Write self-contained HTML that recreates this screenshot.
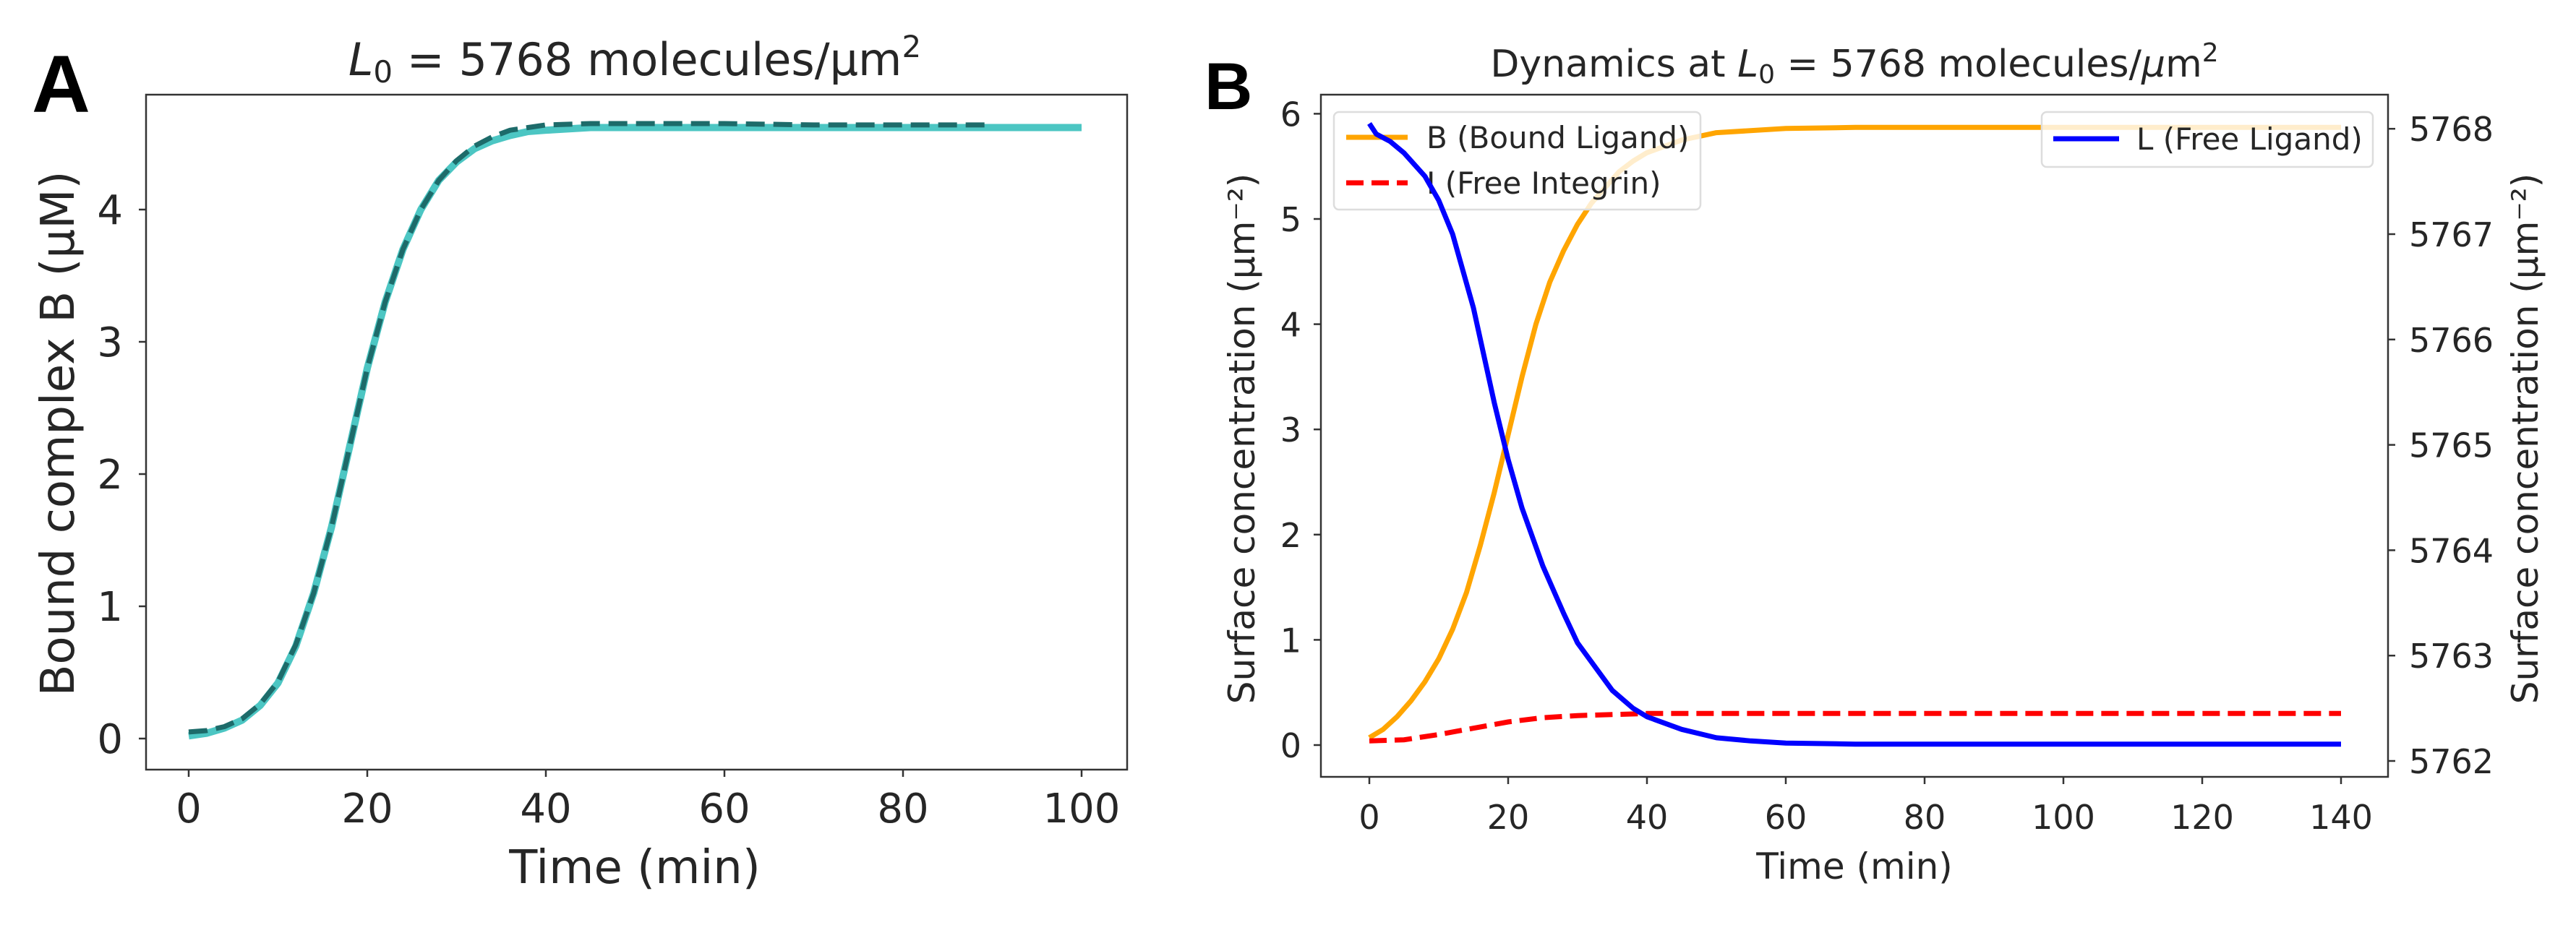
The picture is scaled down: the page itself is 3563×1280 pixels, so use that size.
<!DOCTYPE html>
<html><head><meta charset="utf-8"><style>
html,body{margin:0;padding:0;background:#fff;overflow:hidden;}
svg{display:block;}
text{font-family:"DejaVu Sans","Liberation Sans",sans-serif;fill:#262626;}
</style></head><body>
<svg id="fig" width="3563" height="1280" viewBox="0 0 3563 1280" xmlns="http://www.w3.org/2000/svg">
<text x="44" y="155" style="font-family:'Liberation Sans',sans-serif;font-weight:bold;font-size:112px;fill:#000">A</text>
<text x="1666" y="151" style="font-family:'Liberation Sans',sans-serif;font-weight:bold;font-size:92px;fill:#000">B</text>
<g id="pa"></g>
<g id="pb"></g>
</svg>
<script>
// ---- Panel A data ----
const timesA = [0,2,4,6,8,10,12,14,16,18,20,22,24,26,28,30,32,34,36,38,40,45,50,60,70,80,90,100];
const boundA = [0.02,0.04,0.08,0.14,0.25,0.42,0.7,1.1,1.6,2.2,2.8,3.3,3.7,4.0,4.22,4.36,4.46,4.52,4.56,4.59,4.6,4.62,4.62,4.62,4.62,4.62,4.62,4.62];
const timesAfit = [0,2,4,6,8,10,12,14,16,18,20,22,24,26,28,30,32,34,36,38,40,45,50,60,70,80,90];
const fitA = [0.05,0.06,0.09,0.15,0.26,0.43,0.71,1.1,1.6,2.2,2.8,3.3,3.7,4.0,4.22,4.37,4.48,4.55,4.6,4.62,4.64,4.65,4.65,4.65,4.64,4.64,4.64];
const xTicksA = [0,20,40,60,80,100];
const yTicksA = [0,1,2,3,4];
// ---- Panel B data ----
const timesB = [0,2,4,6,8,10,12,14,16,18,20,22,24,26,28,30,32,34,36,38,40,45,50,60,70,80,100,140];
const boundB = [0.07,0.15,0.27,0.42,0.6,0.82,1.1,1.45,1.9,2.4,2.95,3.5,4.0,4.4,4.7,4.95,5.15,5.3,5.45,5.55,5.63,5.75,5.82,5.86,5.87,5.87,5.87,5.87];
const timesI = [0,5,10,15,20,25,30,35,40,60,140];
const integrinI = [0.04,0.05,0.1,0.16,0.22,0.26,0.28,0.29,0.3,0.3,0.3];
const timesL = [0,1,3,5,8,10,12,15,18,20,22,25,28,30,33,35,38,40,45,50,55,60,70,80,100,140];
const ligandL = [5768.05,5767.95,5767.88,5767.77,5767.55,5767.32,5767.0,5766.3,5765.4,5764.86,5764.4,5763.85,5763.4,5763.12,5762.85,5762.67,5762.5,5762.42,5762.3,5762.22,5762.19,5762.17,5762.16,5762.16,5762.16,5762.16];
const xTicksB = [0,20,40,60,80,100,120,140];
const yTicksB = [0,1,2,3,4,5,6];
const yTicksR = [5762,5763,5764,5765,5766,5767,5768];

const NS='http://www.w3.org/2000/svg';
function mk(parent,tag,attrs,txt){const e=document.createElementNS(NS,tag);for(const k in attrs)e.setAttribute(k,attrs[k]);if(txt!==undefined)e.textContent=txt;parent.appendChild(e);return e;}
function pathD(xs,ys,fx,fy){return xs.map((x,i)=>(i?'L':'M')+fx(x).toFixed(1)+','+fy(ys[i]).toFixed(1)).join(' ');}

// ---- Panel A ----
const pa=document.getElementById('pa');
const A={l:202,r:1559,t:131,b:1065};
const axA=v=>261+v*(1496-261)/100;
const ayA=v=>1022-v*183;
let e;
e=mk(pa,'path',{d:pathD(timesA,boundA,axA,ayA),fill:'none',stroke:'#4cc6c3','stroke-width':10,'stroke-linejoin':'round'});


e=mk(pa,'path',{d:pathD(timesAfit,fitA,axA,ayA),fill:'none',stroke:'#1d6b6a','stroke-width':7,'stroke-dasharray':'26,12','stroke-linejoin':'round'});


e=mk(pa,'rect',{x:A.l,y:A.t,width:A.r-A.l,height:A.b-A.t,fill:'none',stroke:'#333','stroke-width':2.5});


xTicksA.forEach(v=>{const x=axA(v);mk(pa,'line',{x1:x,x2:x,y1:A.b,y2:A.b+10,stroke:'#333','stroke-width':2.5});
 e=mk(pa,'text',{x:x,y:1138,'text-anchor':'middle','font-size':56},String(v));
 
 });
yTicksA.forEach(v=>{const y=ayA(v);mk(pa,'line',{x1:A.l-10,x2:A.l,y1:y,y2:y,stroke:'#333','stroke-width':2.5});
 e=mk(pa,'text',{x:170,y:y+20,'text-anchor':'end','font-size':56},String(v));
 
 });
e=mk(pa,'text',{x:878,y:1222,'text-anchor':'middle','font-size':64},'Time (min)');


e=mk(pa,'text',{x:0,y:0,'text-anchor':'middle','font-size':64,transform:'translate(102,600) rotate(-90)'},'Bound complex B (μM)');


e=mk(pa,'text',{x:878,y:104,'text-anchor':'middle','font-size':62});


e.innerHTML='<tspan font-style="italic">L</tspan><tspan font-size="42" dy="10">0</tspan><tspan dy="-10"> = 5768 molecules/μm</tspan><tspan font-size="42" dy="-25">2</tspan>';

// ---- Panel B ----
const pb=document.getElementById('pb');
const B={l:1827,r:3303,t:131,b:1075};
const axB=v=>1894+v*(3238-1894)/140;
const ayB=v=>1031-v*145.6;
const ayR=v=>1053-(v-5762)*145.8;
e=mk(pb,'path',{d:pathD(timesB,boundB,axB,ayB),fill:'none',stroke:'#ffa500','stroke-width':7,'stroke-linejoin':'round'});


e=mk(pb,'path',{d:pathD(timesI,integrinI,axB,ayB),fill:'none',stroke:'#ff0000','stroke-width':7,'stroke-dasharray':'24,11'});


let lg=mk(pb,'g',{});


mk(lg,'rect',{x:1845,y:155,width:507,height:135,rx:7,fill:'#fff','fill-opacity':0.8,stroke:'#ddd','stroke-width':2.5});
mk(lg,'line',{x1:1862,x2:1947,y1:190,y2:190,stroke:'#ffa500','stroke-width':7});
e=mk(lg,'text',{x:1973,y:205,'font-size':42},'B (Bound Ligand)');


mk(lg,'line',{x1:1862,x2:1947,y1:253,y2:253,stroke:'#ff0000','stroke-width':7,'stroke-dasharray':'24,11'});
e=mk(lg,'text',{x:1973,y:268,'font-size':42},'I (Free Integrin)');


e=mk(pb,'path',{d:pathD(timesL,ligandL,axB,ayR),fill:'none',stroke:'#0000ff','stroke-width':7,'stroke-linejoin':'round'});


lg=mk(pb,'g',{});


mk(lg,'rect',{x:2824,y:155,width:458,height:76,rx:7,fill:'#fff','fill-opacity':0.8,stroke:'#ddd','stroke-width':2.5});
mk(lg,'line',{x1:2840,x2:2931,y1:192,y2:192,stroke:'#0000ff','stroke-width':7});
e=mk(lg,'text',{x:2955,y:207,'font-size':42},'L (Free Ligand)');


e=mk(pb,'rect',{x:B.l,y:B.t,width:B.r-B.l,height:B.b-B.t,fill:'none',stroke:'#333','stroke-width':2.5});


xTicksB.forEach(v=>{const x=axB(v);mk(pb,'line',{x1:x,x2:x,y1:B.b,y2:B.b+10,stroke:'#333','stroke-width':2.5});
 e=mk(pb,'text',{x:x,y:1147,'text-anchor':'middle','font-size':46},String(v));
 
 });
yTicksB.forEach(v=>{const y=ayB(v);mk(pb,'line',{x1:B.l-10,x2:B.l,y1:y,y2:y,stroke:'#333','stroke-width':2.5});
 e=mk(pb,'text',{x:1800,y:y+17,'text-anchor':'end','font-size':46},String(v));
 
 });
yTicksR.forEach(v=>{const y=ayR(v);mk(pb,'line',{x1:B.r,x2:B.r+10,y1:y,y2:y,stroke:'#333','stroke-width':2.5});
 e=mk(pb,'text',{x:3332,y:y+17,'text-anchor':'start','font-size':46},String(v));
 
 });
e=mk(pb,'text',{x:2565,y:1216,'text-anchor':'middle','font-size':50},'Time (min)');


e=mk(pb,'text',{x:0,y:0,'text-anchor':'middle','font-size':50,transform:'translate(1735,607) rotate(-90)'},'Surface concentration (μm⁻²)');


e=mk(pb,'text',{x:0,y:0,'text-anchor':'middle','font-size':50,transform:'translate(3510,607) rotate(-90)'},'Surface concentration (μm⁻²)');


e=mk(pb,'text',{x:2565,y:106,'text-anchor':'middle','font-size':52});


e.innerHTML='Dynamics at <tspan font-style="italic">L</tspan><tspan font-size="36" dy="9">0</tspan><tspan dy="-9"> = 5768 molecules/</tspan><tspan font-style="italic">μ</tspan>m<tspan font-size="36" dy="-21">2</tspan>';
</script>
</body></html>
